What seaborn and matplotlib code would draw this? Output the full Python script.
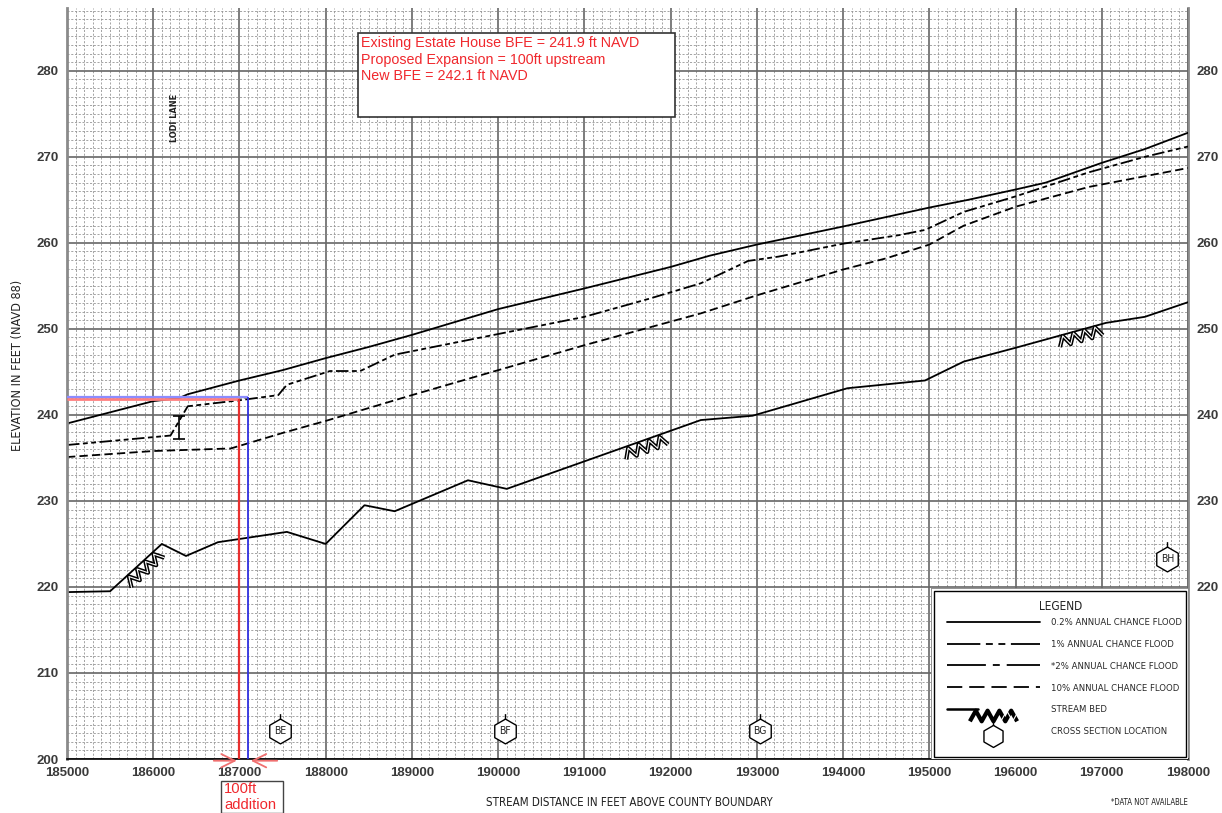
"""
Flood profile: water surface elevations along the stream with the proposed
expansion annotations.
"""
import matplotlib
matplotlib.use("Agg")
import matplotlib.pyplot as plt
import matplotlib.patheffects as pe
import seaborn as sns
import numpy as np
from matplotlib.lines import Line2D
from matplotlib.path import Path
from matplotlib.markers import MarkerStyle
from matplotlib.patches import Rectangle
from matplotlib.ticker import MultipleLocator
from matplotlib.transforms import Affine2D
from matplotlib.legend_handler import HandlerTuple
from matplotlib.font_manager import FontProperties

# --- data (station ft, elevation ft NAVD 88) ---
flood_02_x = [185000, 186000, 186300, 186400, 187000, 187500, 188000, 188500, 189000,
              190000, 191000, 192000, 192450, 193000, 194000, 195000, 195450, 196000,
              196350, 197000, 197500, 198000]
flood_02_y = [239.0, 241.6, 241.95, 242.4, 244.0, 245.2, 246.6, 247.9, 249.3,
              252.3, 254.7, 257.2, 258.5, 259.8, 261.9, 264.1, 265.0, 266.2,
              267.0, 269.3, 270.9, 272.8]

flood_1_x = [185000, 186200, 186400, 187000, 187450, 187550, 188050, 188400, 188800,
             189200, 190000, 191000, 191750, 192350, 192900, 193250, 194000, 194650,
             194950, 195400, 196000, 196850, 197500, 198000]
flood_1_y = [236.5, 237.6, 241.0, 241.7, 242.3, 243.5, 245.1, 245.1, 247.0,
             247.8, 249.4, 251.4, 253.5, 255.3, 257.9, 258.4, 259.9, 260.9,
             261.5, 263.6, 265.4, 268.2, 270.0, 271.2]

flood_10_x = [185000, 186000, 186900, 187100, 187500, 188000, 189000, 190000, 191000,
              192350, 193000, 194000, 194500, 195000, 195400, 196000, 196850, 198000]
flood_10_y = [235.1, 235.8, 236.1, 236.7, 237.9, 239.3, 242.3, 245.2, 248.1,
              251.8, 253.9, 256.9, 258.2, 259.8, 262.0, 264.2, 266.5, 268.7]

bed_x = [185000, 185500, 186100, 186380, 186750, 187550, 188000, 188450, 188800,
         189650, 190100, 192350, 192950, 194050, 194950, 195400, 196000, 197050,
         197500, 198000]
bed_y = [219.4, 219.5, 225.0, 223.6, 225.2, 226.4, 225.0, 229.5, 228.8,
         232.4, 231.4, 239.4, 239.9, 243.1, 244.0, 246.2, 247.8, 250.7,
         251.4, 253.1]
bed_symbol_x = [185850, 191680, 196730]

xsec_labels = ["BE", "BF", "BG", "BH"]
xsec_x = [187470, 190080, 193040, 197760]
xsec_y = [203.3, 203.3, 203.3, 223.2]

gap_x = 186300
gap_low, gap_high = 237.2, 239.9

existing_bfe = 241.9
new_bfe = 242.1
house_x = 187000
expansion = 100

x_ticks = list(range(185000, 198001, 1000))
y_ticks = list(range(200, 281, 10))
right_ticks = list(range(220, 281, 10))

legend_labels = ["0.2% ANNUAL CHANCE FLOOD", "1% ANNUAL CHANCE FLOOD",
                 "*2% ANNUAL CHANCE FLOOD", "10% ANNUAL CHANCE FLOOD",
                 "STREAM BED", "CROSS SECTION LOCATION"]
note_lines = ["Existing Estate House BFE = 241.9 ft NAVD",
              "Proposed Expansion = 100ft upstream",
              "New BFE = 242.1 ft NAVD"]

# --- style ---
sns.set_theme(style="white")
plt.rcParams["font.family"] = ["Liberation Sans", "DejaVu Sans"]
plt.rcParams["lines.scale_dashes"] = False
NARROW = ["Liberation Sans Narrow", "DejaVu Sans Condensed", "DejaVu Sans"]
RED = "#f0282d"
INK = "#222222"


def narrow(size, weight="normal"):
    return FontProperties(family=NARROW, stretch="condensed", size=size, weight=weight)


def hexagon(shift=0.0):
    # pointy-top hexagon with the small station tick on top
    ang = np.radians(90 + 60 * np.arange(6))
    verts = [(np.cos(a), np.sin(a) - shift) for a in ang]
    verts += [(0, 1 - shift), (0, 1 - shift), (0, 1.4 - shift)]
    codes = [Path.MOVETO] + [Path.LINETO] * 5 + [Path.CLOSEPOLY, Path.MOVETO, Path.LINETO]
    return MarkerStyle(Path(verts, codes))


DASH_1 = (0, (9, 2.5, 3.5, 2.5, 3.5, 2.5))
DASH_10 = (0, (6, 3))

fig = plt.figure(figsize=(12.22, 8.13), dpi=100)
ax = fig.add_axes([67 / 1222, 1 - 759 / 813, 1121 / 1222, 751 / 813])
ax.set_xlim(185000, 198000)
ax.set_ylim(200, 287.3)

# graph-paper grid
ax.xaxis.set_minor_locator(MultipleLocator(100))
ax.yaxis.set_minor_locator(MultipleLocator(1))
ax.set_xticks(x_ticks)
ax.set_yticks(y_ticks)
ax.set_axisbelow(True)
ax.grid(which="major", color="#666666", lw=1.2, ls="-")
ax.grid(which="minor", color="#959595", lw=0.6, ls=(0, (1.5, 1.2)))
ax.tick_params(axis="both", which="both", length=0, labelsize=9.5,
               labelcolor="#3a3a3a", pad=6)
for lab in ax.get_xticklabels() + ax.get_yticklabels():
    lab.set_fontweight("bold")
ax.spines["top"].set_visible(False)
ax.spines["right"].set_visible(False)
ax.spines["left"].set_color("#8a8a8a")
ax.spines["left"].set_linewidth(2)
ax.spines["bottom"].set_color("black")
ax.spines["bottom"].set_linewidth(1.2)

sec = ax.secondary_yaxis("right")
sec.set_yticks(right_ticks)
sec.tick_params(length=0, labelsize=9.5, labelcolor="#3a3a3a", pad=6)
for lab in sec.get_yticklabels():
    lab.set_fontweight("bold")
sec.spines["right"].set_color("#8a8a8a")
sec.spines["right"].set_linewidth(2)

# --- profiles ---
sns.lineplot(x=flood_02_x, y=flood_02_y, ax=ax, color="black", lw=1.3)
sns.lineplot(x=flood_1_x, y=flood_1_y, ax=ax, color="black", lw=1.3, linestyle=DASH_1)
sns.lineplot(x=flood_10_x, y=flood_10_y, ax=ax, color="black", lw=1.3, linestyle=DASH_10)
sns.lineplot(x=bed_x, y=bed_y, ax=ax, color="black", lw=1.3)

ax.errorbar([gap_x], [(gap_low + gap_high) / 2], yerr=[(gap_high - gap_low) / 2],
            fmt="none", ecolor="black", elinewidth=1.2, capsize=4, capthick=1.2)

# stream bed hatch symbols, turned along the bed slope
zig_verts = [(-2, -1), (-1.5, -0.1), (-1, -1), (-0.5, -0.1), (0, -1),
             (0.5, -0.1), (1, -1), (1.5, -0.1), (2, -1)]
zig_path = Path(zig_verts)
for sx in bed_symbol_x:
    sy = np.interp(sx, bed_x, bed_y)
    p0 = ax.transData.transform((sx - 150, np.interp(sx - 150, bed_x, bed_y)))
    p1 = ax.transData.transform((sx + 150, np.interp(sx + 150, bed_x, bed_y)))
    ang = np.degrees(np.arctan2(p1[1] - p0[1], p1[0] - p0[0]))
    m = MarkerStyle(zig_path, transform=Affine2D().rotate_deg(ang))
    ax.plot([sx], [sy], marker=m, ms=32, mec="black", mew=3, mfc="none", ls="none")
    ax.plot([sx], [sy], marker=m, ms=32, mec="white", mew=0.8, mfc="none", ls="none")

# cross section hexagons
ax.plot(xsec_x, xsec_y, marker=hexagon(), ms=25, mfc="white", mec="black",
        mew=1, ls="none", zorder=4)
for lab, hx, hy in zip(xsec_labels, xsec_x, xsec_y):
    ax.text(hx, hy, lab, ha="center", va="center", fontproperties=narrow(7.5),
            color=INK, zorder=5)

# --- BFE / expansion markup ---
ax.hlines(existing_bfe, 185000, house_x, color="#ff8080", lw=2, zorder=3)
ax.hlines(new_bfe, 185000, house_x + expansion, color="#8c8cff", lw=1.6, zorder=3)
ax.vlines(house_x, 200, existing_bfe, color="#e8302f", lw=1.6, zorder=3)
ax.vlines(house_x + expansion, 200, new_bfe, color="#3030e0", lw=1.3, zorder=3)
arrow = dict(arrowstyle="->,head_length=0.8,head_width=0.4", color="#f07070", lw=1.3)
ax.annotate("", xy=(house_x, 199.8), xytext=(house_x - 330, 199.8),
            arrowprops=arrow, annotation_clip=False)
ax.annotate("", xy=(house_x + expansion, 199.8), xytext=(house_x + 470, 199.8),
            arrowprops=arrow, annotation_clip=False)

ax.add_patch(Rectangle((188376, 274.65), 3677, 9.75, fc="white", ec="#333333",
                       lw=1.2, zorder=5))
ax.text(188410, 284.05, "\n".join(note_lines), ha="left", va="top", color=RED,
        fontsize=10.3, linespacing=1.25, zorder=6)

ax.text(186250, 274.5, "LODI LANE", rotation=90, ha="center", va="center",
        fontproperties=narrow(6.6, "bold"), color=INK)

fig.add_artist(Rectangle((221 / 1222, 0), 62 / 1222, 32 / 813, transform=fig.transFigure,
                         fc="white", ec="#444444", lw=1))
fig.text(224 / 1222, 1 - 782 / 813, "100ft\naddition", ha="left", va="top",
         color=RED, fontsize=10.6, linespacing=1.15)

fig.text(629 / 1222, 1 - 802 / 813, "STREAM DISTANCE IN FEET ABOVE COUNTY BOUNDARY",
         ha="center", va="center", fontproperties=narrow(8.3), color=INK)
fig.text(18 / 1222, 1 - 365 / 813, "ELEVATION IN FEET (NAVD 88)", rotation=90,
         ha="center", va="center", fontproperties=narrow(9.1), color=INK)
fig.text(1149 / 1222, 1 - 802 / 813, "*DATA NOT AVAILABLE", ha="center", va="center",
         fontproperties=narrow(5.6), color=INK)

# --- legend: double-ruled box, title and a frameless legend inside ---
box = Rectangle((0.7734, 0.0027), 0.2248, 0.221, transform=ax.transAxes,
                fc="white", ec="black", lw=1.0, zorder=6)
box.set_path_effects([pe.Stroke(linewidth=5, foreground="#888888"),
                      pe.Stroke(linewidth=3, foreground="white"),
                      pe.Normal()])
ax.add_patch(box)
ax.text(0.8867, 0.2037, "LEGEND", transform=ax.transAxes, ha="center", va="center",
        fontproperties=narrow(8.5), color=INK, zorder=7)

handles = [
    Line2D([], [], color="black", lw=1.3),
    Line2D([], [], color="black", lw=1.3, linestyle=(0, (24, 4, 5, 4, 5, 4))),
    Line2D([], [], color="black", lw=1.3, linestyle=(0, (28, 5, 5, 5))),
    Line2D([], [], color="black", lw=1.3, linestyle=(0, (11, 5))),
    (Line2D([], [], color="black", lw=1.8),
     Line2D([], [], ls="none", marker=MarkerStyle(zig_path), ms=34, mec="black",
            mew=3, mfc="none"),
     Line2D([], [], ls="none", marker=MarkerStyle(zig_path), ms=34, mec="white",
            mew=0.8, mfc="none")),
    Line2D([], [], ls="none", marker=hexagon(0.45), ms=23, mfc="white", mec="black", mew=1),
]
leg = ax.legend(handles, legend_labels, handler_map={tuple: HandlerTuple(ndivide=None, pad=0)},
                loc="upper left", bbox_to_anchor=(0.785, 0.1877), borderaxespad=0,
                borderpad=0, frameon=False, prop=narrow(6.8),
                handlelength=9.8, handletextpad=1.25, labelspacing=1.36, numpoints=1)
leg.set_zorder(7)

fig.savefig("out.png", dpi=100)
